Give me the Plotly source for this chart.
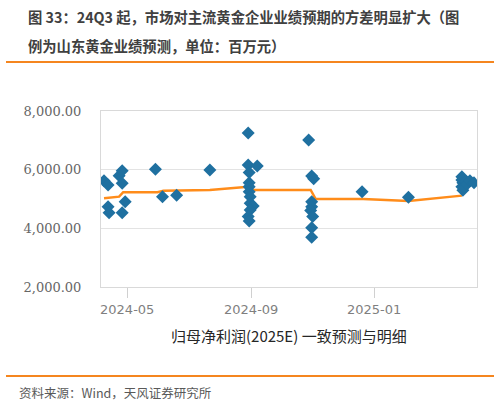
import plotly.graph_objects as go

# consensus (line)
con_dates = ["2024-04-08", "2024-04-23", "2024-04-27", "2024-05-31", "2024-06-06",
             "2024-07-22", "2024-08-29", "2024-09-03", "2024-10-30", "2024-11-04",
             "2024-12-21", "2025-02-04", "2025-03-29"]
con_values = [5025, 5080, 5230, 5230, 5285, 5310, 5420, 5310, 5310, 5000, 5000, 4930, 5115]

# individual broker forecasts (diamonds)
det_dates = ["2024-04-08", "2024-04-12", "2024-04-12", "2024-04-13",
             "2024-04-23", "2024-04-26", "2024-04-26", "2024-04-29", "2024-04-26",
             "2024-05-29", "2024-06-05", "2024-06-19", "2024-07-22",
             "2024-08-29", "2024-08-29", "2024-09-07", "2024-08-30", "2024-08-30",
             "2024-08-30", "2024-08-30", "2024-08-31", "2024-08-31", "2024-09-03",
             "2024-08-31", "2024-08-29", "2024-08-30",
             "2024-10-28", "2024-10-31", "2024-11-02", "2024-10-31", "2024-10-31",
             "2024-10-30", "2024-11-01", "2024-10-31", "2024-10-31",
             "2024-12-20", "2025-02-04",
             "2025-03-29", "2025-03-29", "2025-03-30", "2025-03-29", "2025-03-30",
             "2025-04-02", "2025-04-03", "2025-04-06", "2025-04-10"]
det_values = [5625, 5478, 4740, 4535,
              5790, 5960, 5535, 4910, 4535,
              6010, 5080, 5130, 5990,
              7250, 6155, 6125, 5905, 5555,
              5420, 5250, 5080, 4855, 4760,
              4625, 4400, 4250,
              7010, 5785, 5690, 4910, 4740,
              4610, 4400, 4020, 3700,
              5250, 5060,
              5760, 5650, 5550, 5420, 5300,
              5600, 5500, 5620, 5550]

x_range = ["2024-04-05", "2025-04-13"]
y_ticks = [2000, 4000, 6000, 8000]

title_1 = "图 33：24Q3 起，市场对主流黄金企业业绩预期的方差明显扩大（图"
title_2 = "例为山东黄金业绩预测，单位：百万元）"
x_title = "归母净利润(2025E) 一致预测与明细"
source = "资料来源：Wind，天风证券研究所"

ORANGE = "#f5861f"
BLUE = "#1f70a0"
CJK = "Noto Sans CJK SC"

fig = go.Figure()
fig.add_trace(go.Scatter(x=con_dates, y=con_values, mode="lines",
                         line=dict(color="#ff8c1a", width=2.5), showlegend=False))
fig.add_trace(go.Scatter(x=det_dates, y=det_values, mode="markers",
                         marker=dict(symbol="diamond", size=10, color=BLUE),
                         showlegend=False))

# plot area spans x 101..477, y 111..287 px
def px(x):
    return (x - 101) / 376

def py(y):
    return (287 - y) / 176

fig.update_layout(
    width=499, height=404,
    margin=dict(l=101, r=22, t=111, b=117),
    paper_bgcolor="white", plot_bgcolor="white",
    xaxis=dict(type="date", range=x_range, tick0="2024-01-01", dtick="M4",
               tickformat="%Y-%m", ticks="outside", ticklen=10, tickcolor="#d0d0d0",
               showgrid=False, showline=True, mirror=True, linecolor="#d9d9d9",
               tickfont=dict(family="DejaVu Sans", size=13, color="#7f7f7f")),
    yaxis=dict(range=[2000, 8000], tickvals=y_ticks, tickformat=",.2f",
               showgrid=True, gridcolor="#e3e3e3", showline=True, mirror=True,
               linecolor="#d9d9d9", ticks="", ticklabelstandoff=16,
               zeroline=False,
               tickfont=dict(family="DejaVu Serif", size=13, color="#666666")),
    shapes=[
        dict(type="line", xref="paper", yref="paper", x0=px(6), x1=px(494),
             y0=py(62), y1=py(62), line=dict(color=ORANGE, width=2)),
        dict(type="line", xref="paper", yref="paper", x0=px(6), x1=px(494),
             y0=py(376), y1=py(376), line=dict(color=ORANGE, width=2)),
    ],
    annotations=[
        dict(text="<b>" + title_1 + "</b>", xref="paper", yref="paper", x=px(26), y=py(16),
             xanchor="left", yanchor="middle", showarrow=False,
             font=dict(family=CJK, size=14.3, color="#404040")),
        dict(text="<b>" + title_2 + "</b>", xref="paper", yref="paper", x=px(26), y=py(46),
             xanchor="left", yanchor="middle", showarrow=False,
             font=dict(family=CJK, size=14.3, color="#404040")),
        dict(text=x_title, xref="paper", yref="paper", x=0.5, y=py(335),
             xanchor="center", yanchor="middle", showarrow=False,
             font=dict(family=CJK, size=15, color="#262626")),
        dict(text=source, xref="paper", yref="paper", x=px(17), y=py(392),
             xanchor="left", yanchor="middle", showarrow=False,
             font=dict(family=CJK, size=12.5, color="#595959")),
    ],
)

fig.write_html("out.html", config={"displayModeBar": False},
               post_script="document.body.style.margin='0';")
